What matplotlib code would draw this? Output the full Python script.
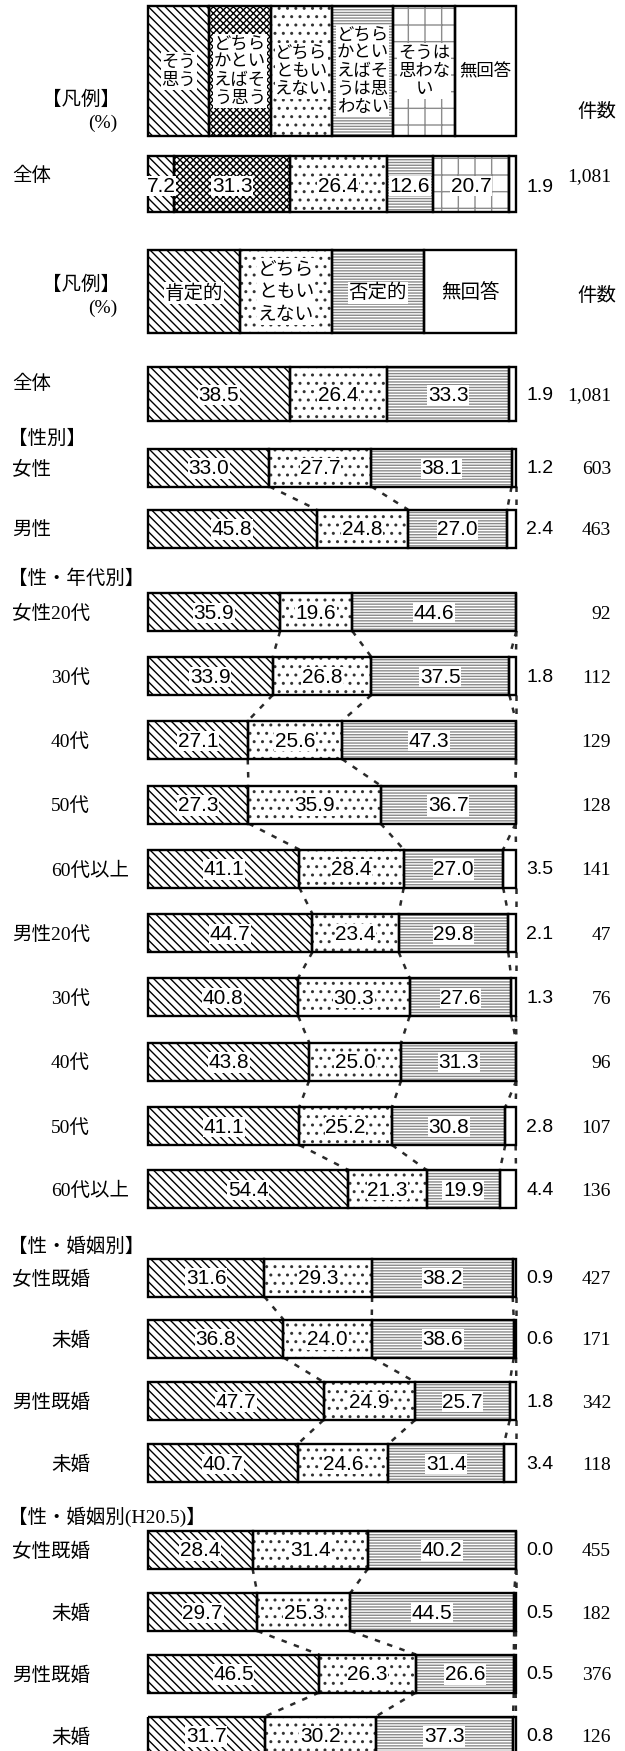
import matplotlib
matplotlib.use('Agg')
import matplotlib.pyplot as plt
from matplotlib import font_manager
import numpy as np

# ---- data ----
legend5 = ['そう\n思う', 'どちら\nかとい\nえばそ\nう思う', 'どちら\nともい\nえない',
           'どちら\nかとい\nえばそ\nうは思\nわない', 'そうは\n思わな\nい', '無回答']
total5 = [7.2, 31.3, 26.4, 12.6, 20.7, 1.9]
total5_n = '1,081'

legend3 = ['肯定的', 'どちら\nともい\nえない', '否定的', '無回答']

row_labels = ['全体', '女性', '男性',
              '女性20代', '30代', '40代', '50代', '60代以上',
              '男性20代', '30代', '40代', '50代', '60代以上',
              '女性既婚', '未婚', '男性既婚', '未婚',
              '女性既婚', '未婚', '男性既婚', '未婚']
positive = [38.5, 33.0, 45.8,
            35.9, 33.9, 27.1, 27.3, 41.1,
            44.7, 40.8, 43.8, 41.1, 54.4,
            31.6, 36.8, 47.7, 40.7,
            28.4, 29.7, 46.5, 31.7]
neutral = [26.4, 27.7, 24.8,
           19.6, 26.8, 25.6, 35.9, 28.4,
           23.4, 30.3, 25.0, 25.2, 21.3,
           29.3, 24.0, 24.9, 24.6,
           31.4, 25.3, 26.3, 30.2]
negative = [33.3, 38.1, 27.0,
            44.6, 37.5, 47.3, 36.7, 27.0,
            29.8, 27.6, 31.3, 30.8, 19.9,
            38.2, 38.6, 25.7, 31.4,
            40.2, 44.5, 26.6, 37.3]
no_answer = [1.9, 1.2, 2.4,
             None, 1.8, None, None, 3.5,
             2.1, 1.3, None, 2.8, 4.4,
             0.9, 0.6, 1.8, 3.4,
             0.0, 0.5, 0.5, 0.8]
counts = ['1,081', '603', '463',
          '92', '112', '129', '128', '141',
          '47', '76', '96', '107', '136',
          '427', '171', '342', '118',
          '455', '182', '376', '126']
headers = ['【性別】', '【性・年代別】', '【性・婚姻別】', '【性・婚姻別(H20.5)】']

# ---- layout (pixels) ----
W, H = 625, 1751
x0, span = 148, 368          # bar start / width of 100 %
row_y = [394, 467.5, 528.5,
         612, 676, 740, 804.5, 868.5,
         933, 997, 1061.5, 1126, 1189,
         1277.5, 1338.5, 1401, 1463,
         1549.5, 1612, 1673.5, 1735.5]
row_h = [54] + [38] * 20
indent = [0, 0, 0, 0, 1, 1, 1, 1, 0, 1, 1, 1, 1, 0, 1, 0, 1, 0, 1, 0, 1]
header_y = [439, 579, 1247, 1517]
groups = [[1, 2], list(range(3, 13)), [13, 14, 15, 16], [17, 18, 19, 20]]


def px(p):
    return (p - x0) / span * 100


names = {f.name for f in font_manager.fontManager.ttflist}
if 'Liberation Sans Narrow' in names:
    num_font, num_size = 'Liberation Sans Narrow', 16.5
else:
    num_font, num_size = 'Liberation Sans', 15
jp_sans = ['Noto Sans CJK JP', 'DejaVu Sans']
jp_serif = ['Liberation Serif', 'Noto Sans CJK JP']
lab_size = 14

plt.rcParams['hatch.linewidth'] = 1.0

s_pos = dict(fc='white', hc='black', hatch='\\\\\\\\')
s_pos2 = dict(fc='white', hc='black', hatch='xxxxx')
s_neu = dict(fc='white', hc='#333333', hatch='..')
s_neg = dict(fc='white', hc='#8a8a8a', hatch='------')
s_neg2 = dict(fc='white', hc='#8c8c8c', hatch='+')
s_na = dict(fc='white', hc='black', hatch='')

fig = plt.figure(figsize=(W / 100, H / 100), dpi=100)
ax = fig.add_axes([0, 0, 1, 1])
ax.set_xlim(px(0), px(W))
ax.set_ylim(H, 0)
ax.axis('off')


def stacked(y, h, vals, styles):
    left = 0
    for v, st in zip(vals, styles):
        ax.barh(y, v, left=left, height=h, color=st['fc'], edgecolor=st['hc'],
                hatch=st['hatch'], linewidth=0, zorder=2)
        ax.barh(y, v, left=left, height=h, fill=False, edgecolor='black',
                linewidth=1.7, zorder=3)
        left += v


def seg_label(x, y, txt, **kw):
    ax.text(x, y, txt, ha='center', va='center', zorder=5,
            bbox=dict(facecolor='white', edgecolor='none', pad=0.4), **kw)


# legend 1 (five categories)
styles5 = [s_pos, s_pos2, s_neu, s_neg, s_neg2, s_na]
w6 = [100 / 6] * 6
stacked(71, 130, w6, styles5)
for k, lab in enumerate(legend5):
    xc = (k + 0.5) * 100 / 6
    if k == 5:
        ax.text(xc, 71, lab, ha='center', va='center', family=jp_sans, fontsize=12.5, zorder=5)
    else:
        seg_label(xc, 71, lab, family=jp_sans, fontsize=12.5, linespacing=1.0)
ax.text(px(120), 100, '【凡例】', ha='right', va='center', family=jp_serif, fontsize=lab_size)
ax.text(px(117), 123, '(%)', ha='right', va='center', family=jp_serif, fontsize=lab_size)
ax.text(px(597), 112, '件数', ha='center', va='center', family=jp_serif, fontsize=lab_size)

# overall row, five categories
stacked(184, 56, total5, styles5)
cum = np.cumsum(total5)
for k in range(5):
    seg_label(cum[k] - total5[k] / 2, 186, f'{total5[k]:.1f}', family=num_font, fontsize=num_size)
ax.text(px(540), 188, f'{total5[5]:.1f}', ha='center', va='center', family=num_font, fontsize=num_size - 1)
ax.text(px(611), 177, total5_n, ha='right', va='center', family=jp_serif, fontsize=lab_size)
ax.text(px(12), 176, row_labels[0], ha='left', va='center', family=jp_serif, fontsize=lab_size)

# legend 2 (three categories)
styles3 = [s_pos, s_neu, s_neg, s_na]
w4 = [25] * 4
stacked(291.5, 83, w4, styles3)
for k, lab in enumerate(legend3):
    xc = (k + 0.5) * 25
    if k == 3:
        ax.text(xc, 293, lab, ha='center', va='center', family=jp_sans, fontsize=14, zorder=5)
    elif k == 1:
        seg_label(xc, 291.5, lab, family=jp_sans, fontsize=13.5, linespacing=1.1)
    else:
        seg_label(xc, 293, lab, family=jp_sans, fontsize=14)
ax.text(px(120), 285, '【凡例】', ha='right', va='center', family=jp_serif, fontsize=lab_size)
ax.text(px(117), 308, '(%)', ha='right', va='center', family=jp_serif, fontsize=lab_size)
ax.text(px(597), 296, '件数', ha='center', va='center', family=jp_serif, fontsize=lab_size)

# series lines between neighbouring bars
def row_vals(i):
    na = no_answer[i] if no_answer[i] is not None else 0
    return [positive[i], neutral[i], negative[i], na]


for grp in groups:
    for a, b in zip(grp[:-1], grp[1:]):
        ca, cb = np.cumsum(row_vals(a)), np.cumsum(row_vals(b))
        for k in range(4):
            ax.plot([ca[k], cb[k]], [row_y[a] + row_h[a] / 2, row_y[b] - row_h[b] / 2],
                    ls=(0, (2.2, 3.0)), color='#2a2a2a', lw=1.8, zorder=1)

# main rows
for i, lab in enumerate(row_labels):
    vals = row_vals(i)
    stacked(row_y[i], row_h[i], vals, styles3)
    cum = np.cumsum(vals)
    for k in range(3):
        seg_label(cum[k] - vals[k] / 2, row_y[i] + 1, f'{vals[k]:.1f}',
                  family=num_font, fontsize=num_size)
    if i > 0:
        ax.text(px(12 if indent[i] == 0 else 51), row_y[i] + 2, lab, ha='left', va='center',
                family=jp_serif, fontsize=lab_size)
    if no_answer[i] is not None:
        ax.text(px(540), row_y[i] + 1, f'{no_answer[i]:.1f}', ha='center', va='center',
                family=num_font, fontsize=num_size - 1)
    ax.text(px(611), row_y[i] + 2, counts[i], ha='right', va='center', family=jp_serif, fontsize=lab_size)

ax.text(px(12), 384, row_labels[0], ha='left', va='center', family=jp_serif, fontsize=lab_size)
for hy, ht in zip(header_y, headers):
    ax.text(px(8), hy, ht, ha='left', va='center', family=jp_serif, fontsize=lab_size)

fig.savefig('out.png', dpi=100)
